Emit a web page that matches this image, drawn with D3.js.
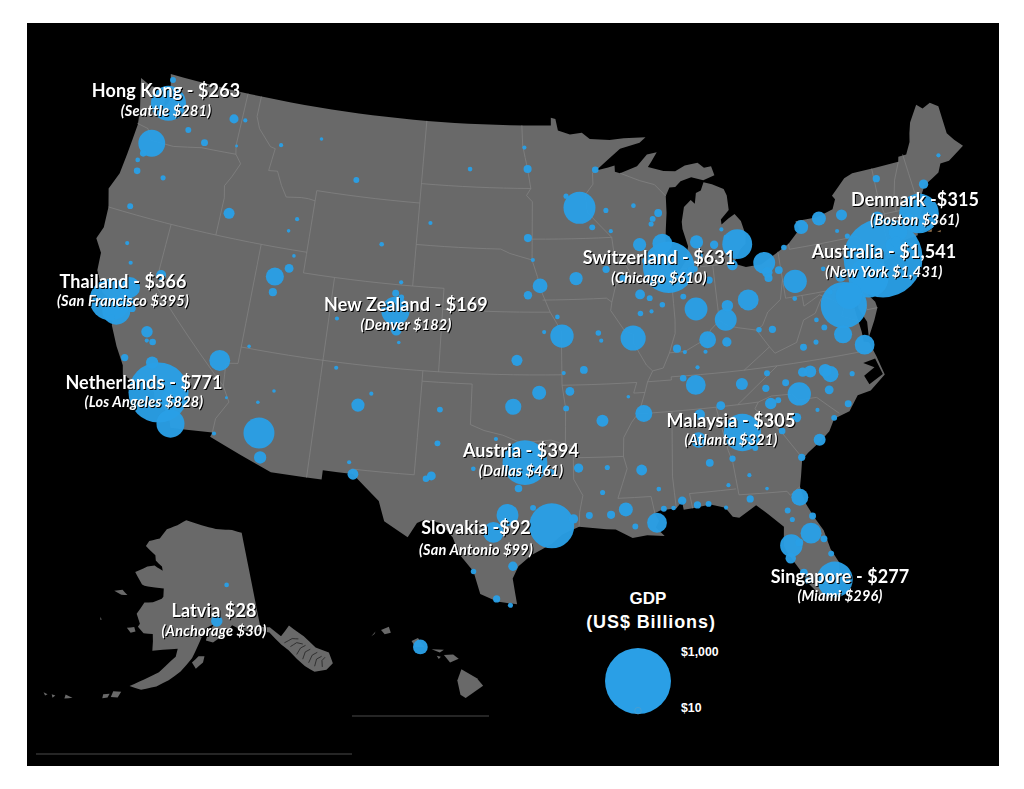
<!DOCTYPE html>
<html lang="en">
<head>
	<title>US metro GDP</title>
	<meta charset="utf-8" />
	<script src="https://cdnjs.cloudflare.com/ajax/libs/d3/7.8.5/d3.min.js"></script>
	<style>
		html, body { margin: 0; background: #fff; }
		svg { display: block; }
		.big { font-family: Lato, sans-serif; font-weight: 700; font-size: 18px; letter-spacing: 0.1px; fill: #fff; text-anchor: middle; filter: drop-shadow(1.5px 1.5px 0.6px #000); }
		.small { font-family: Lato, sans-serif; font-style: italic; font-weight: 700; font-size: 14.5px; letter-spacing: 0.2px; fill: #fff; text-anchor: middle; filter: drop-shadow(1.2px 1.2px 0.5px #000); }
		.legtext { font-family: "Liberation Sans", sans-serif; font-weight: 700; fill: #fff; }
	</style>
</head>
<body>
	<svg width="1024" height="789"></svg>
	<script>
		const metrosWest = [
			["Seattle",-122.33,47.6,281],["Bellingham",-122.48,48.75,8],["Spokane",-117.6,47.65,19],["Coeur d'Alene",-116.8,47.7,4],
			["Yakima",-120.5,46.6,8],["Kennewick",-119.2,46.2,11],["Lewiston",-117,46.4,2],["Portland",-122.67,45.52,165],
			["Salem",-123.03,44.94,10],["Corvallis",-123.26,44.56,5],["Eugene",-123.09,44.05,10],["Bend",-121.3,44.06,6],
			["Medford",-122.87,42.33,8],["Boise",-116.5,43.15,28],["Idaho Falls",-112.03,43.49,4],["Pocatello",-112.45,42.87,3],
			["Missoula",-114,46.87,4],["Great Falls",-111.3,47.5,3],["Billings",-108.5,45.78,8],["Casper",-106.3,42.85,5],
			["Cheyenne",-104.8,41.13,4],["Fort Collins",-105.08,40.58,11],["Greeley",-104.7,40.42,7],["Boulder",-105.27,40.01,20],
			["Denver",-104.99,39.74,182],["Colorado Springs",-104.82,38.83,26],["Pueblo",-104.6,38.25,3],["Grand Junction",-108.55,39.07,4],
			["Salt Lake City",-112.8,40.6,75],["Ogden",-112,41.1,18],["Provo",-112.75,39.85,15],["Logan",-111.83,41.73,3],
			["Reno",-119.8,39.53,23],["Redding",-122.39,40.59,4],["Chico",-121.84,39.73,4],["Sacramento",-121.49,38.58,100],
			["San Francisco",-122.42,37.77,395],["San Jose",-121.89,37.34,180],["Santa Cruz",-122.03,36.97,8],["Stockton",-121.29,37.96,18],
			["Modesto",-121,37.64,12],["Fresno",-119.77,36.74,30],["Visalia",-119.29,36.33,10],["Hanford",-119.65,36.33,4],
			["San Luis Obispo",-120.66,35.28,12],["Bakersfield",-119.02,35.37,35],["Los Angeles",-118.24,34.05,828],["Riverside",-117.39,33.95,110],
			["Las Vegas",-115.14,36.17,100],["St George",-113.58,37.1,3],["San Diego",-117.16,32.72,180],["Yuma",-114.62,32.69,4],
			["Lake Havasu",-114.32,34.48,2],["Flagstaff",-111.65,35.2,3],["Prescott",-112.47,34.54,3],["Phoenix",-112.1,33.1,220],
			["Tucson",-111.8,31.95,35],["Farmington",-108.2,36.73,4],["Santa Fe",-105.94,35.69,4],["Albuquerque",-106.65,35.08,40],
			["Las Cruces",-106.78,32.31,4],["El Paso",-106.49,31.76,27]
		];
		const metrosCentral = [
			["Bismarck",-100.78,46.8,5],["Rapid City",-103.23,44.08,4],["Grand Forks",-97.03,47.92,4],["Fargo",-96.79,46.88,15],
			["Minneapolis",-93.27,44.98,235],["St Cloud",-94.16,45.56,6],["Duluth",-92.1,46.79,10],["Rochester MN",-92.46,44.02,8],
			["Eau Claire",-91.5,44.81,6],["Wausau",-89.63,44.96,5],["La Crosse",-91.24,43.8,4],["Sioux Falls",-96.73,43.55,15],
			["Sioux City",-96.4,42.5,4],["Omaha",-95.93,41.26,50],["Lincoln",-96.7,40.81,16],["Des Moines",-93.62,41.59,40],
			["Cedar Rapids",-91.67,41.98,12],["Quad Cities",-90.58,41.52,14],["Madison",-89.4,43.07,40],["Milwaukee",-87.91,43.04,90],
			["Green Bay",-88.01,44.52,14],["Appleton",-88.41,44.26,8],["Oshkosh",-88.54,44.02,6],["Chicago",-87.63,41.88,610],
			["Rockford",-89.09,42.27,10],["Peoria",-89.59,40.69,22],["Bloomington",-89,40.48,8],["Champaign",-88.24,40.12,7],
			["Springfield IL",-89.65,39.78,7],["Decatur",-88.95,39.84,4],["Kansas City",-94.58,38.85,125],["St Louis",-90.2,38.63,145],
			["Columbia MO",-92.33,38.95,7],["Jefferson City",-92.17,38.58,4],["St Joseph",-94.85,39.77,5],["Topeka",-95.68,39.05,4],
			["Wichita",-97.34,37.69,28],["Springfield MO",-93.29,37.21,14],["Joplin",-94.51,37.08,4],["Tulsa",-95.99,36.15,45],
			["Fayetteville",-94.16,36.2,18],["Fort Smith",-94.4,35.39,8],["Oklahoma City",-97.52,35.47,60],["Little Rock",-92.29,34.75,33],
			["Jonesboro",-90.7,35.84,3],["Memphis",-89.85,35,66],["Amarillo",-101.83,35.2,8],["Lubbock",-101.85,33.58,8],
			["Midland",-102.08,32,18],["Odessa",-102.37,31.85,10],["Abilene",-99.73,32.45,5],["Wichita Falls",-98.49,33.91,4],
			["Waco",-97.15,31.55,13],["College Station",-96.33,30.63,8],["Tyler",-95.3,32.35,8],["Shreveport",-93.75,32.52,20],
			["Monroe",-92.12,32.5,6],["Dallas",-96.8,32.8,461],["Austin",-97.74,30.27,110],["San Antonio",-98.49,29.42,99],
			["Houston",-95.3,29.76,465],["Beaumont",-94.1,30.08,20],["Lake Charles",-93.22,30.23,11],["Lafayette LA",-92.02,30.22,15],
			["Baton Rouge",-91.19,30.45,45],["Houma",-90.72,29.6,8],["New Orleans",-89.52,29.72,90],["Alexandria",-92.44,31.31,6],
			["Corpus Christi",-97.4,27.8,20],["Laredo",-99.5,27.5,7],["McAllen",-98.23,26.2,12],["Brownsville",-97.5,25.9,6]
		];
		const metrosSouth = [
			["Jackson",-90.18,32.3,27],["Hattiesburg",-89.29,31.33,5],["Gulfport",-89.09,30.37,8],["Pascagoula",-88.55,30.37,5],
			["Mobile",-88.04,30.69,16],["Pensacola",-87.22,30.42,12],["Fort Walton",-86.6,30.42,8],["Panama City",-85.66,30.16,4],
			["Tallahassee",-84.28,30.44,12],["Birmingham",-86.8,33.52,55],["Montgomery",-86.3,32.38,14],["Huntsville",-86.59,34.73,25],
			["Chattanooga",-85.31,35.05,18],["Atlanta",-84.25,33.65,321],["Columbus GA",-84.99,32.46,9],["Macon",-83.63,32.84,8],
			["Athens",-83.38,33.96,5],["Augusta",-81.97,33.47,10],["Savannah",-81.1,32.08,12],["Charleston SC",-79.93,32.78,33],
			["Columbia SC",-81.03,34,20],["Albany GA",-84.16,31.58,4],["Valdosta",-83.28,30.83,3],["Dothan",-85.39,31.22,4],
			["Jacksonville",-81.55,30.2,66],["Gainesville",-82.32,29.65,8],["Ocala",-82.14,29.19,6],["Orlando",-81.25,28.4,100],
			["Daytona",-81.02,29.21,11],["Tampa",-82.4,27.95,115],["Lakeland",-81.95,28.04,14],["Palm Bay",-80.61,28.03,11],
			["Port St Lucie",-80.36,27.27,8],["Sarasota",-82.53,27.34,25],["Cape Coral",-81.95,26.56,14],["Naples",-81.79,26.14,9],
			["Miami",-80.4,26,296],["Nashville",-86.65,36.16,90],["Knoxville",-83.92,35.96,33],["Johnson City",-82.35,36.31,8],
			["Clarksville",-87.36,36.53,10],["Asheville",-82.55,35.6,12],["Hickory",-81.34,35.73,11],["Charlotte",-80.65,35.1,125],
			["Greensboro",-79.79,36.07,33],["Winston-Salem",-80.24,36.1,20],["Durham",-78.9,36,38],["Raleigh",-78.64,35.78,60],
			["Fayetteville NC",-78.88,35.05,18],["Greenville NC",-77.37,35.61,6],["Wilmington",-77.94,34.23,11],["Myrtle Beach",-78.89,33.69,8],
			["Greenville SC",-82.39,34.85,30],["Spartanburg",-81.93,34.95,8],["Florence",-79.76,34.2,4],["Richmond",-77.44,37.54,75],
			["Norfolk",-76.29,36.85,90],["Roanoke",-79.94,37.27,11],["Charlottesville",-78.48,38.03,8],["Harrisonburg",-78.87,38.45,5],
			["Lynchburg",-79.14,37.41,6]
		];
		const metrosNorth = [
			["Louisville",-85.65,38.25,65],["Lexington",-84.5,38.04,20],["Evansville",-87.57,37.97,15],["Owensboro",-87.11,37.77,4],
			["Elizabethtown",-85.86,37.69,4],["Bowling Green",-86.44,36.99,4],["Indianapolis",-86.16,39.77,120],["Lafayette IN",-86.88,40.42,8],
			["Fort Wayne",-85.14,41.08,12],["Elkhart",-85.97,41.68,8],["South Bend",-86.25,41.68,7],["Cincinnati",-84.4,39.1,110],
			["Dayton",-84.19,39.76,30],["Columbus OH",-82.85,39.9,100],["Toledo",-83.54,41.66,25],["Detroit",-83.05,42.62,205],
			["Lansing",-84.55,42.73,16],["Grand Rapids",-85.67,42.96,40],["Kalamazoo",-85.59,42.29,12],["Flint",-83.69,43.01,8],
			["Saginaw",-83.95,43.42,4],["Cleveland",-81.5,41.55,110],["Akron",-81.4,41.08,25],["Canton",-81.38,40.8,15],
			["Youngstown",-80.65,41.1,14],["Pittsburgh",-79.75,40.44,125],["Erie",-80.09,42.13,7],["Buffalo",-78.75,42.95,45],
			["Rochester",-77.5,43.2,45],["Syracuse",-76,43.15,28],["Albany",-73.76,42.65,35],["Burlington",-73.21,44.48,12],
			["Portland ME",-70.26,43.66,20],["Bangor",-68.77,44.8,4],["Manchester",-71.45,43,18],["Boston",-71.06,42.36,361],
			["Providence",-71.41,41.82,50],["Hartford",-72.67,41.76,80],["Worcester",-71.8,42.26,25],["Springfield MA",-72.59,42.1,16],
			["New Haven",-72.93,41.31,25],["Bridgeport",-73.2,41.18,50],["New York",-74,40.71,1431],["Binghamton",-75.92,42.1,6],
			["Ithaca",-76.5,42.44,4],["Harrisburg",-76.88,40.27,25],["Scranton",-75.66,41.41,14],["State College",-77.86,40.79,5],
			["Philadelphia",-75.17,39.95,370],["Baltimore",-76.61,39.29,160],["Washington",-77.04,38.9,490],["Charleston WV",-81.63,38.35,12],
			["Huntington",-82.45,38.42,7],["Morgantown",-79.96,39.63,5],["Hagerstown",-77.72,39.64,6]
		];
		const metrosAlaska = [["Anchorage",-149.5,61.45,30],["Fairbanks",-146.7,64.84,5]];
		const metrosHawaii = [["Honolulu",-157.85,21.3,50]];

		// lower 48 coastline and land border, lon/lat
		const land48 = [[-124.7,48.4],[-123.9,48.17],[-123.1,48.15],[-122.75,48.1],[-122.55,47.4],[-122.35,47.6],[-122.3,48],[-122.5,48.4],[-122.75,49],[-95.15,49],[-95.15,49.38],[-94.82,49.32],[-94.65,48.75],[-93.8,48.55],[-92.95,48.62],[-92.4,48.3],[-91,48.2],[-90,48.25],[-88.45,48.22],[-88.9,47.98],[-90.3,47.75],[-91.2,47.25],[-92.05,46.75],[-91.2,46.87],[-90.75,46.95],[-90.75,46.65],[-90.4,46.57],[-89.2,46.85],[-88.45,47.38],[-87.75,47.45],[-88.2,47],[-88.45,46.78],[-87.4,46.52],[-86.6,46.45],[-85.9,46.68],[-85,46.75],[-84.6,46.47],[-84.1,46.5],[-83.95,46.05],[-84.75,45.87],[-85.55,46.08],[-86.3,45.95],[-86.7,45.7],[-87.1,45.7],[-87.4,45.3],[-87.45,44.5],[-87.6,43.7],[-87.7,43.05],[-87.7,42.4],[-87.55,41.75],[-87.2,41.63],[-86.9,41.72],[-86.5,42.1],[-86.25,42.8],[-86.5,43.65],[-86.5,44],[-86.25,44.7],[-85.75,45],[-85.5,44.8],[-85.35,45.3],[-85,45.4],[-84.75,45.78],[-84.2,45.63],[-83.45,45.33],[-83.3,45],[-83.3,44.3],[-83.9,43.9],[-83.9,43.65],[-83.4,43.9],[-82.95,44.07],[-82.6,43.7],[-82.42,43],[-82.5,42.6],[-82.9,42.35],[-83.15,42.05],[-83.45,41.72],[-82.7,41.48],[-81.7,41.5],[-80.5,41.97],[-79.75,42.27],[-78.9,42.85],[-79.05,43.27],[-77.6,43.27],[-76.5,43.5],[-76.2,43.95],[-76.35,44.15],[-75.3,44.85],[-74.7,45],[-71.5,45.01],[-71.4,45.25],[-70.85,45.25],[-70.4,45.8],[-70.25,46.2],[-70,46.7],[-69.25,47.45],[-68.9,47.18],[-68.3,47.35],[-67.8,47.07],[-67.8,45.7],[-67.45,45.3],[-67,44.9],[-68.2,44.4],[-68.8,44.4],[-69.1,44],[-70.2,43.6],[-70.7,43.07],[-70.8,42.8],[-70.6,42.65],[-71,42.3],[-70.65,41.95],[-70.5,41.78],[-70.05,41.78],[-70.25,42.07],[-69.95,41.9],[-69.98,41.65],[-70.65,41.53],[-71.2,41.5],[-71.4,41.7],[-71.5,41.37],[-72.9,41.25],[-73.65,40.98],[-74,40.7],[-74,40.45],[-74.1,39.75],[-74.4,39.4],[-74.9,38.93],[-75.5,39.5],[-75.55,39.6],[-75.4,39.1],[-75.1,38.75],[-75.05,38.45],[-75.4,37.9],[-75.95,37.15],[-75.85,37.9],[-76.2,38.6],[-76.15,39.3],[-76.1,39.55],[-76.5,39.2],[-76.45,38.9],[-76.4,38.3],[-76.3,37.5],[-76.3,37],[-76,36.92],[-75.75,36.2],[-75.5,35.25],[-76.5,34.65],[-77.3,34.55],[-77.95,33.87],[-78.9,33.65],[-79.3,33.1],[-79.9,32.7],[-80.7,32.25],[-81.1,31.95],[-81.3,31.2],[-81.45,30.7],[-81.3,29.9],[-80.95,29.15],[-80.55,28.45],[-80.35,27.5],[-80.03,26.8],[-80.13,25.8],[-80.4,25.2],[-81.1,25.13],[-81.75,25.95],[-82,26.5],[-82.7,27.7],[-82.8,28],[-82.65,28.9],[-83.4,29.6],[-84,30.1],[-85,29.6],[-85.35,29.68],[-85.7,30.15],[-86.5,30.38],[-87.5,30.28],[-88,30.25],[-88.05,30.65],[-88.4,30.35],[-89.3,30.3],[-89.6,30.18],[-89.4,29.8],[-89.6,29.5],[-89.15,29.05],[-90.1,29.15],[-90.9,29.05],[-91.8,29.5],[-92.3,29.53],[-93.8,29.7],[-94.7,29.35],[-95.3,28.9],[-96.4,28.35],[-97.1,27.8],[-97.4,27.2],[-97.15,25.95],[-98.2,26.07],[-99.1,26.42],[-99.5,27.5],[-100.3,28.3],[-100.7,29.1],[-101.4,29.77],[-102.3,29.88],[-102.7,29.7],[-103.15,28.98],[-104.5,29.65],[-104.9,30.6],[-106.5,31.77],[-108.2,31.78],[-108.2,31.33],[-111.07,31.33],[-114.8,32.5],[-114.72,32.72],[-117.12,32.53],[-117.25,32.85],[-117.9,33.6],[-118.4,33.74],[-118.5,34.03],[-119.2,34.15],[-120.5,34.45],[-120.65,34.9],[-121.3,35.7],[-121.9,36.6],[-122,36.96],[-122.5,37.5],[-122.5,37.8],[-123,38],[-123.7,38.95],[-123.8,39.8],[-124.35,40.4],[-124.1,41],[-124.2,42],[-124.55,42.85],[-124.15,43.7],[-124.05,44.7],[-123.95,46.2],[-124.1,46.9]];
		const longIsland = [[-74,40.6],[-73.7,40.88],[-72.6,40.98],[-72.3,41.15],[-71.9,41.07],[-72.5,40.82],[-73.9,40.57]];
		const soundsNC = [[-76.6,36],[-75.85,36.1],[-75.6,35.3],[-76.5,34.95],[-76.7,35.4],[-76,35.7]];
		const capeIslands = [
			[[-70.85,41.42],[-70.5,41.48],[-70.6,41.35]],
			[[-70.25,41.3],[-69.98,41.32],[-70.05,41.22]]
		];

		const stateLines = [
			[[-124,46.25],[-123.2,46.15],[-122.8,45.65],[-121.2,45.65],[-119.3,45.93],[-116.92,46]],
			[[-117.03,49],[-117.04,46.4],[-116.92,46],[-116.46,45.6],[-116.85,44.9],[-117.2,44.4],[-117.03,43.83],[-117.03,42]],
			[[-124.2,42],[-111.05,42]],
			[[-120,42],[-120,39],[-114.63,35],[-114.13,34.3],[-114.7,33.4],[-114.72,32.72]],
			[[-114.04,42],[-114.04,36.2],[-114.75,36.1],[-114.63,35]],
			[[-114.04,37],[-94.62,37]],
			[[-109.05,41],[-109.05,31.33]],
			[[-111.05,44.5],[-111.05,41],[-102.05,41],[-102.05,37]],
			[[-116.05,49],[-116.05,48],[-115.7,47.45],[-114.7,46.7],[-114.35,46.65],[-114.5,45.55],[-113.9,45.6],[-113.45,44.95],[-113,44.45],[-112,44.55],[-111.5,44.55],[-111.05,44.5],[-111.05,45],[-104.05,45]],
			[[-104.05,49],[-104.05,41]],
			[[-104.05,45.94],[-96.56,45.94]],
			[[-104.05,43],[-98.5,43],[-97.9,42.8],[-96.45,42.5]],
			[[-102.05,40],[-95.3,40]],
			[[-103,37],[-103,36.5],[-100,36.5],[-100,34.56],[-99.2,34.3],[-98.1,34.1],[-97.2,33.8],[-96.5,33.8],[-95.3,33.88],[-94.48,33.64],[-94.04,33.55],[-94.04,31.99],[-93.55,31.2],[-93.75,30.4],[-93.8,29.7]],
			[[-103,36.5],[-103.05,32],[-106.6,32],[-106.5,31.77]],
			[[-94.62,37],[-94.62,36.5],[-94.43,35.4],[-94.48,33.64]],
			[[-94.04,33.02],[-91.17,33]],
			[[-92.05,46.72],[-92.3,46.65],[-92.3,46.1],[-92.85,45.6],[-92.75,44.75],[-91.2,43.5],[-91.1,42.7],[-90.65,42.5],[-90.15,41.8],[-91.1,41.2],[-91.4,40.4],[-91.5,40],[-90.7,39],[-90.15,38.8],[-90.2,38.4],[-89.5,37.3],[-89.15,37],[-89.5,36.5],[-89.7,36],[-90.1,35.1],[-90.6,34.6],[-91.1,33.9],[-91.17,33],[-91,32.4],[-91.6,31],[-89.75,31],[-89.6,30.18]],
			[[-94.62,36.5],[-90.15,36.5],[-90.37,36],[-89.7,36]],
			[[-94.62,37],[-94.62,39.1],[-95.3,40],[-95.85,41],[-96.1,41.7],[-96.45,42.5],[-96.45,45.3],[-96.85,45.6],[-96.56,45.94],[-96.8,46.9],[-97.15,48],[-97.23,49]],
			[[-95.77,40.58],[-91.73,40.6],[-91.4,40.4]],
			[[-96.45,43.5],[-91.2,43.5]],
			[[-90.65,42.5],[-87.7,42.5]],
			[[-90.4,46.57],[-89.1,46.15],[-88.1,45.9],[-87.4,45.3]],
			[[-87.53,41.7],[-87.53,39.35],[-87.6,38.7],[-88.05,37.8]],
			[[-89.15,37],[-88.5,37.1],[-88.05,37.8],[-87.1,37.8],[-86.3,38.1],[-85.7,38.3],[-85.4,38.7],[-84.8,39.1],[-84.3,38.8],[-83.7,38.65],[-82.6,38.42],[-82.2,38.6],[-81.75,39.2],[-80.85,39.7],[-80.52,40.64],[-80.52,41.97]],
			[[-84.8,39.1],[-84.8,41.76]],
			[[-86.82,41.76],[-84.8,41.76],[-83.45,41.73]],
			[[-79.76,42.27],[-79.76,42],[-75.35,42],[-74.7,41.36],[-75.1,40.9],[-74.75,40.2],[-75.4,39.8]],
			[[-80.52,40.64],[-80.52,39.72],[-75.79,39.72],[-75.7,38.46],[-75.05,38.45]],
			[[-79.48,39.72],[-79.48,39.2],[-78.4,39.6],[-77.75,39.3],[-77.05,38.85],[-77.3,38.4],[-76.3,38]],
			[[-77.75,39.3],[-78.35,39.4],[-78.87,38.77],[-79.65,38.55],[-80.3,37.55],[-81.7,37.2],[-81.97,37.54],[-82.6,38.42]],
			[[-81.97,37.54],[-83.68,36.6]],
			[[-75.87,36.55],[-81.68,36.59],[-83.68,36.6],[-88.07,36.65],[-88.07,36.5],[-89.5,36.5]],
			[[-90.3,35],[-84.32,35],[-83.1,35.75],[-81.68,36.59]],
			[[-84.32,35],[-83.1,35],[-82.3,35.2],[-81.05,35.15],[-80.8,34.82],[-79.68,34.8],[-78.55,33.86]],
			[[-83.1,35],[-83.35,34.7],[-82,33.4],[-81.1,32.1]],
			[[-85.6,35],[-85.18,32.87],[-85,32.3],[-84.87,30.7],[-82.2,30.57],[-82.05,30.36],[-81.45,30.7]],
			[[-87.5,30.28],[-87.6,31],[-85,31]],
			[[-88.2,35],[-88.47,31.9],[-88.4,30.35]],
			[[-73.35,45],[-73.4,43.6],[-73.25,42.75],[-73.5,42.05],[-73.5,41.3],[-73.65,41]],
			[[-71.5,45],[-72.05,44.2],[-72.45,43.2],[-72.46,42.73]],
			[[-71.08,45.3],[-70.98,43.4],[-70.7,43.07]],
			[[-73.27,42.75],[-71.3,42.7],[-70.82,42.87]],
			[[-73.5,42.05],[-71.38,42.02],[-71.15,41.5]],
			[[-71.8,42.02],[-71.85,41.32]],
			[[-74.7,41.36],[-73.9,41]]
		];

		const alaskaLand = [[-141,69.65],[-143.5,70.1],[-148,70.4],[-152,70.85],[-156.5,71.35],[-159,70.8],[-161.9,70.3],[-163.5,69.3],[-166.2,68.9],[-166.8,68.35],[-164,67.6],[-163.7,67.1],[-162,66.6],[-161.7,66.2],[-163.8,66.6],[-165.5,66.4],[-168.1,65.65],[-166,64.6],[-165.4,64.5],[-163,64.5],[-161,64.5],[-160.9,63.7],[-161.2,63.5],[-163,63.05],[-164.8,62.9],[-166,61.7],[-165,60.8],[-165.3,60.5],[-164,59.95],[-162.2,60],[-162,59.3],[-161.9,58.4],[-160,58.6],[-158.5,58.7],[-157.2,58.8],[-157.5,58],[-158.3,57.6],[-160.3,56.4],[-162.8,55.5],[-165,54.7],[-163,54.5],[-160.5,55],[-158.5,55.7],[-156.5,56.6],[-154.5,57.9],[-153.5,59],[-152.5,60.1],[-151.8,60.8],[-150,61.2],[-151.3,60.4],[-151.85,59.6],[-150.5,59.4],[-148.5,60],[-147.5,60.4],[-146.5,60.9],[-145,60.4],[-143,60],[-141,59.95],[-139.5,59.6],[-137.8,58.2],[-136.8,57.5],[-135.8,56.5],[-134.8,55.6],[-133.5,54.8],[-131.5,54.6],[-130.1,55],[-130.1,56.1],[-132,57],[-133.4,58.4],[-135.5,59.8],[-137.5,59],[-139.2,60.1],[-141,60.3]];
		const alaskaIslands = [
			[[-171.7,63.4],[-170,63.7],[-168.7,63.3],[-170,63.2]],
			[[-167.4,60.2],[-166,60.4],[-165.6,60],[-166.5,59.8]],
			[[-173,60.6],[-172.6,60.4],[-172.8,60.3]],
			[[-154.5,57.5],[-153.3,58.1],[-152.2,58.1],[-152.5,57.5],[-153.8,56.9]],
			[[-167.5,53.9],[-166.2,54],[-166.6,53.4],[-167.7,53.3]],
			[[-169,53.4],[-168,53.6],[-168.2,53.2],[-169,53]],
			[[-174.8,52.4],[-173.6,52.3],[-174.8,52]],
			[[-176.9,52],[-176.3,52],[-176.6,51.7]],
			[[-178.2,51.9],[-177.5,51.85],[-177.8,51.65]],
			[[172.6,53],[173.4,52.95],[172.9,52.75]]
		];
		const alaskaChannels = [
			[[-137.2,58.3],[-135.6,58.5],[-134.5,58.3]],
			[[-136.3,57.8],[-135,58],[-134,57.7]],
			[[-135.6,56.9],[-134.6,57.4],[-133.6,57.5]],
			[[-134.8,56.3],[-134,56.9],[-133,57]],
			[[-134,55.8],[-133,56.4],[-132,56.5]],
			[[-133.2,55.3],[-132.5,55.9],[-131.5,56]],
			[[-132,55],[-131.7,55.6],[-131,55.8]]
		];
		const hawaiiIslands = [
			[[-156.05,19.75],[-155.85,20.27],[-155.1,19.85],[-154.8,19.5],[-155.65,18.95],[-155.9,19.1]],
			[[-156.7,20.93],[-156.25,20.95],[-155.98,20.75],[-156.4,20.58]],
			[[-157.3,21.2],[-156.7,21.17],[-156.9,21.05]],
			[[-157.05,20.9],[-156.85,20.85],[-156.95,20.75]],
			[[-158.28,21.57],[-157.97,21.71],[-157.65,21.3],[-158.1,21.3]],
			[[-159.78,22.07],[-159.4,22.23],[-159.3,21.95],[-159.6,21.88]],
			[[-160.25,21.78],[-160.05,22],[-160.1,21.88]]
		];

		const labels = [
			{ main: "Hong Kong - $263", sub: "(Seattle $281)", x: 166, y: 97, dy: 19 },
			{ main: "Thailand - $366", sub: "(San Francisco $395)", x: 123, y: 288, dy: 18 },
			{ main: "Netherlands - $771", sub: "(Los Angeles $828)", x: 144, y: 389, dy: 18 },
			{ main: "New Zealand - $169", sub: "(Denver $182)", x: 406, y: 311, dy: 19 },
			{ main: "Switzerland - $631", sub: "(Chicago $610)", x: 659, y: 264, dy: 19 },
			{ main: "Denmark -$315", sub: "(Boston $361)", x: 915, y: 206, dy: 19 },
			{ main: "Australia - $1,541", sub: "(New York $1,431)", x: 884, y: 258, dy: 19 },
			{ main: "Malaysia - $305", sub: "(Atlanta $321)", x: 731, y: 427, dy: 18 },
			{ main: "Austria - $394", sub: "(Dallas $461)", x: 521, y: 457, dy: 19 },
			{ main: "Slovakia -$92", sub: "(San Antonio $99)", x: 476, y: 534, dy: 21 },
			{ main: "Singapore - $277", sub: "(Miami $296)", x: 840, y: 583, dy: 18 },
			{ main: "Latvia $28", sub: "(Anchorage $30)", x: 214, y: 617, dy: 19 }
		];
		const legendValues = [1000, 10];
		const legendLabels = ["$1,000", "$10"];

		let svg = d3.select('svg');

		svg.append('rect').attr('x', 27).attr('y', 23).attr('width', 972).attr('height', 743).attr('fill', '#000');

		// the picture is a touch wider than it is tall, so x and y get their own scale
		let albersUnit = d3.geoConicEqualArea().rotate([96, 0]).center([0, 37.5]).parallels([29.5, 45.5])
			.scale(1).translate([0, 0]);
		let mapX = d3.scaleLinear().domain([0, 1]).range([539, 539 + 1203]);
		let mapY = d3.scaleLinear().domain([0, 1]).range([364.5, 364.5 + 1187]);
		let albers = p => {
			let u = albersUnit(p);
			return [mapX(u[0]), mapY(u[1])];
		};
		let alaska = d3.geoConicEqualArea().rotate([154, 0]).center([-2, 58.5]).parallels([55, 65])
			.scale(590).translate([184, 652]);
		let hawaii = d3.geoConicEqualArea().rotate([157, 0]).center([-3, 19.9]).parallels([8, 18])
			.scale(1250).translate([376, 677]);

		let radius = d3.scaleSqrt().domain([0, 1000]).range([0, 33]);

		// straight runs in lon/lat (the 49th parallel etc) have to stay on the parallel
		function path(points, proj, closed) {
			let pts = closed ? points.concat([points[0]]) : points;
			let out = [];
			pts.forEach((p, i) => {
				if (i > 0) {
					let q = pts[i - 1];
					let n = Math.ceil(Math.max(Math.abs(p[0] - q[0]), Math.abs(p[1] - q[1])));
					for (let k = 1; k < n; k++) {
						out.push(proj([q[0] + (p[0] - q[0]) * k / n, q[1] + (p[1] - q[1]) * k / n]));
					}
				}
				out.push(proj(p));
			});
			return d3.line().curve(d3.curveLinear)(out) + (closed ? 'Z' : '');
		}

		let g = svg.append('g');
		[land48, longIsland].forEach(d => g.append('path').attr('d', path(d, albers, true)).attr('fill', '#696969'));
		capeIslands.forEach(d => g.append('path').attr('d', path(d, albers, true)).attr('fill', '#8a6a48'));
		g.append('path').attr('d', path(soundsNC, albers, true)).attr('fill', '#000');
		g.selectAll('path.state')
			.data(stateLines)
			.enter()
			.append('path')
			.attr('class', 'state')
			.attr('d', d => path(d, albers, false))
			.attr('fill', 'none')
			.attr('stroke', '#858585')
			.attr('stroke-width', 0.7);

		[alaskaLand].concat(alaskaIslands).forEach(d => g.append('path').attr('d', path(d, alaska, true)).attr('fill', '#696969'));
		alaskaChannels.forEach(d => g.append('path').attr('d', path(d, alaska, false)).attr('fill', 'none').attr('stroke', '#222').attr('stroke-width', 0.8));
		hawaiiIslands.forEach(d => g.append('path').attr('d', path(d, hawaii, true)).attr('fill', '#696969'));

		// inset frames
		g.append('path').attr('d', 'M36,754H352').attr('stroke', '#4a4a4a');
		g.append('path').attr('d', 'M352,716H489').attr('stroke', '#4a4a4a');

		let metros = [].concat(
			metrosWest.concat(metrosCentral, metrosSouth, metrosNorth).map(d => ({ v: d[3], pos: albers([d[1], d[2]]) })),
			metrosAlaska.map(d => ({ v: d[3], pos: alaska([d[1], d[2]]) })),
			metrosHawaii.map(d => ({ v: d[3], pos: hawaii([d[1], d[2]]) }))
		).sort((a, b) => b.v - a.v);

		svg.selectAll('circle.metro')
			.data(metros)
			.enter()
			.append('circle')
			.attr('class', 'metro')
			.attr('cx', d => d.pos[0])
			.attr('cy', d => d.pos[1])
			.attr('r', d => radius(d.v))
			.attr('fill', '#2a9fe6')
			.attr('fill-opacity', 0.96);

		// legend
		let legendBottom = 714, legendX = 638;
		svg.selectAll('circle.key')
			.data(legendValues)
			.enter()
			.append('circle')
			.attr('class', 'key')
			.attr('cx', legendX)
			.attr('cy', d => legendBottom - radius(d))
			.attr('r', d => radius(d))
			.attr('fill', '#2a9fe6')
			.attr('stroke', (d, i) => i ? '#5a9fc8' : 'none')
			.attr('stroke-width', 0.6);
		svg.append('text').attr('class', 'legtext').attr('x', 648).attr('y', 604).attr('text-anchor', 'middle').attr('font-size', 17).text('GDP');
		svg.append('text').attr('class', 'legtext').attr('x', 651).attr('y', 628).attr('text-anchor', 'middle').attr('font-size', 18).attr('letter-spacing', 0.9).text('(US$ Billions)');
		svg.selectAll('text.tick')
			.data(legendLabels)
			.enter()
			.append('text')
			.attr('class', 'legtext tick')
			.attr('x', 681)
			.attr('y', (d, i) => i ? 712 : 656)
			.attr('font-size', 12.3)
			.text(d => d);

		svg.selectAll('text.big')
			.data(labels)
			.enter()
			.append('text')
			.attr('class', 'big')
			.attr('x', d => d.x)
			.attr('y', d => d.y)
			.text(d => d.main);
		svg.selectAll('text.small')
			.data(labels)
			.enter()
			.append('text')
			.attr('class', 'small')
			.attr('x', d => d.x)
			.attr('y', d => d.y + d.dy)
			.text(d => d.sub);
	</script>
</body>
</html>
